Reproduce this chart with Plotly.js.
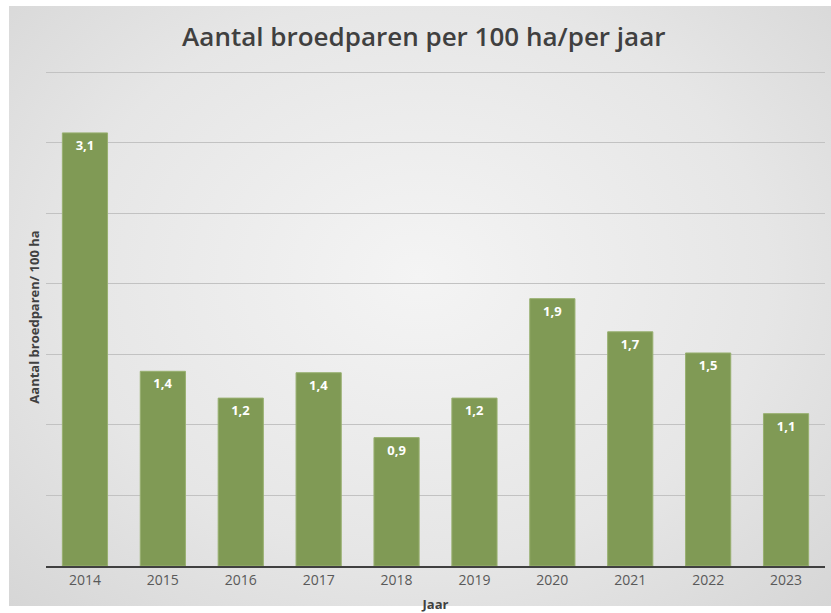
<!DOCTYPE html>
<html>
<head>
<meta charset="utf-8">
<script src="https://cdn.plot.ly/plotly-3.0.1.min.js"></script>
<style>
  html, body { margin: 0; padding: 0; background: #ffffff; }
  #frame {
    position: absolute; left: 9px; top: 6px; width: 822px; height: 600px;
    background: radial-gradient(ellipse at 50% 45%, #f4f4f4 0%, #e6e6e6 60%, #d6d6d6 100%);
  }
  #chart { position: absolute; left: 0; top: 0; width: 831px; height: 613px; }
</style>
</head>
<body>
<div id="frame"></div>
<div id="chart"></div>
<script>
const years = ['2014','2015','2016','2017','2018','2019','2020','2021','2022','2023'];
const values = [3.07, 1.38, 1.19, 1.37, 0.91, 1.19, 1.895, 1.66, 1.51, 1.08];
const titleText = 'Aantal broedparen per 100 ha/per jaar';
const yTitle = 'Aantal broedparen/ 100 ha';
const xTitle = 'Jaar';

const font = 'Open Sans, Noto Sans, sans-serif';

const trace = {
  type: 'bar',
  x: years,
  y: values,
  marker: { color: '#809a55', line: { color: '#98b070', width: 1 } },
  texttemplate: '<b>%{y:.1f}</b>',
  textposition: 'inside',
  insidetextanchor: 'end',
  textangle: 0,
  textfont: { color: '#ffffff', size: 13, family: font },
  hoverinfo: 'x+y'
};

const layout = {
  width: 831, height: 613,
  separators: ',.',
  paper_bgcolor: 'rgba(0,0,0,0)',
  plot_bgcolor: 'rgba(0,0,0,0)',
  margin: { l: 46, r: 6, t: 68, b: 47 },
  bargap: 0.42,
  showlegend: false,
  title: {
    text: titleText,
    font: { family: font, size: 26, color: '#404040', weight: 600 },
    x: 0.51, xanchor: 'center',
    y: 1 - 37/613, yanchor: 'middle', yref: 'container'
  },
  xaxis: {
    type: 'category',
    showline: true, linecolor: '#404040', linewidth: 2,
    ticks: '', showgrid: false,
    tickfont: { family: font, size: 14, color: '#595959' },
    title: { text: '<b>' + xTitle + '</b>', font: { family: font, size: 13, color: '#404040' }, standoff: 18 },
    automargin: false
  },
  yaxis: {
    range: [0, 3.53], tickvals: [0.5, 1, 1.5, 2, 2.5, 3, 3.5],
    showticklabels: false, ticks: '',
    showgrid: true, gridcolor: '#c2c2c2', gridwidth: 1,
    zeroline: false,
    showline: false,
    title: { text: '<b>' + yTitle + '</b>', font: { family: font, size: 13, color: '#404040' }, standoff: 2 },
    automargin: false
  }
};

Plotly.newPlot('chart', [trace], layout, { displayModeBar: false, staticPlot: true });
</script>
</body>
</html>
